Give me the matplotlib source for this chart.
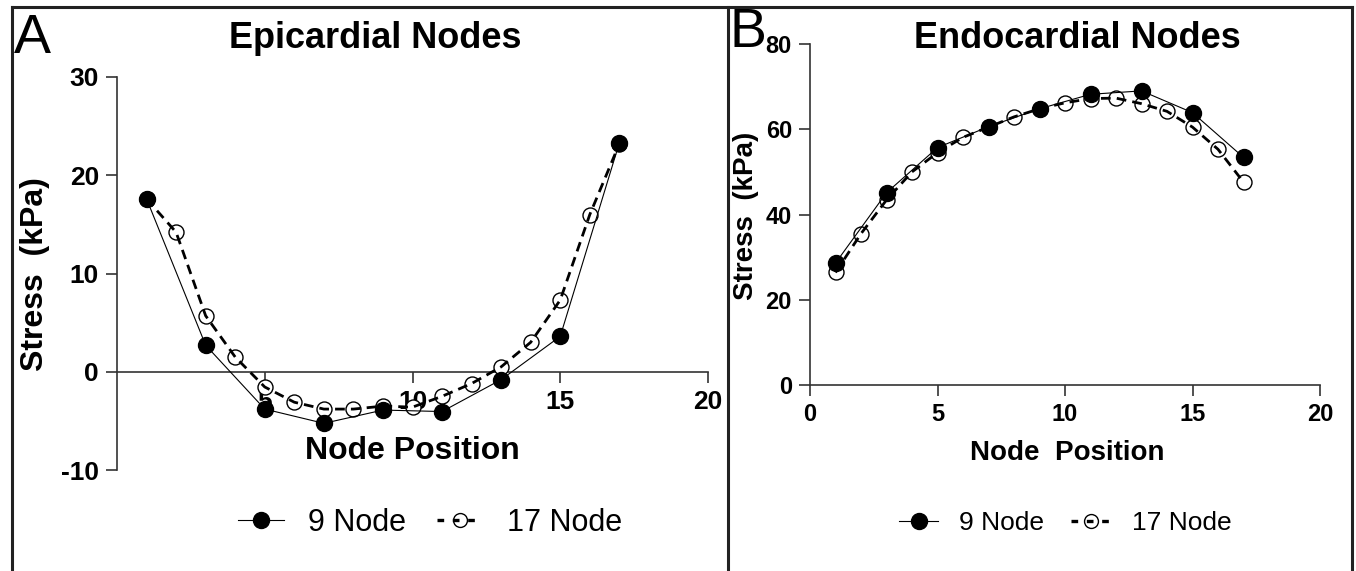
import matplotlib
matplotlib.use('Agg')
import matplotlib.pyplot as plt
from matplotlib.lines import Line2D
from matplotlib.legend_handler import HandlerTuple

# data
x9 = [1, 3, 5, 7, 9, 11, 13, 15, 17]
x17 = list(range(1, 18))

epi9 = [17.6, 2.7, -3.8, -5.25, -3.9, -4.05, -0.8, 3.6, 23.3]
epi17 = [17.6, 14.2, 5.7, 1.5, -1.55, -3.1, -3.8, -3.8, -3.5, -3.6,
         -2.5, -1.2, 0.5, 3.0, 7.3, 16.0, 23.2]

endo9 = [28.6, 45.1, 55.7, 60.6, 64.8, 68.2, 69.0, 63.9, 53.4]
endo17 = [26.4, 35.5, 43.4, 50.0, 54.5, 58.1, 60.5, 62.9, 64.8, 66.2,
          67.2, 67.3, 66.0, 64.2, 60.5, 55.3, 47.6]

labels = ['9 Node', '17 Node']

plt.rcParams['axes.unicode_minus'] = False
sans = ['Liberation Sans', 'DejaVu Sans']
plt.rcParams['font.family'] = sans

fig = plt.figure(figsize=(13.56, 5.71), dpi=100)

# panel frames
frame_kw = dict(color='#222222', lw=2.2, transform=fig.transFigure)
W, H = 1356, 571
fig.add_artist(Line2D([12 / W, 1352 / W], [1 - 7 / H, 1 - 7 / H], **frame_kw))
fig.add_artist(Line2D([12 / W, 12 / W], [0, 1 - 7 / H], **frame_kw))
fig.add_artist(Line2D([1352 / W, 1352 / W], [0, 1 - 7 / H], **frame_kw))
fig.add_artist(Line2D([728 / W, 728 / W], [0, 1 - 7 / H], **frame_kw))


def draw(ax, y9, y17, fs):
    ax.plot(x17, y17, 'o', ms=10.8, mfc='white', mec='black', mew=1.0, zorder=3)
    ax.plot(x17, y17, color='black', lw=2.0, ls=(0, (3.5, 2.2)), zorder=4)
    ax.plot(x9, y9, 'o-', color='black', lw=0.8, ms=11.5, zorder=5)
    for s in ['top', 'right']:
        ax.spines[s].set_visible(False)
    for s in ['left', 'bottom']:
        ax.spines[s].set_linewidth(1.2)
        ax.spines[s].set_color('#333333')
    ax.tick_params(length=8, width=1.2, color='#333333', pad=5, labelsize=fs)
    ax.set_axisbelow(True)
    plt.setp(ax.get_xticklabels() + ax.get_yticklabels(), fontweight='bold')


def add_legend(xc, yc, fs, hl):
    h9 = Line2D([], [], color='black', lw=0.8, marker='o', ms=11.5)
    h17a = Line2D([], [], ls='none', marker='o', ms=10, mfc='white', mec='black', mew=1.0)
    h17b = Line2D([], [], color='black', lw=2.4, ls=(0, (2.0, 2.6)))
    fig.legend([h9, (h17a, h17b)], labels, loc='center',
               bbox_to_anchor=(xc / W, 1 - yc / H), ncol=2, frameon=False,
               handler_map={tuple: HandlerTuple(ndivide=1)},
               prop={'size': fs}, handlelength=hl,
               handletextpad=0.8, columnspacing=1.0)


# panel A
axA = fig.add_axes([117 / W, 1 - 470 / H, 591 / W, 393 / H])
axA.set_xlim(0, 20)
axA.set_ylim(-10, 30)
axA.set_xticks([5, 10, 15, 20])
axA.set_yticks([-10, 0, 10, 20, 30])
axA.spines['bottom'].set_position(('data', 0))
draw(axA, epi9, epi17, 19)
fig.text(375 / W, 1 - 38 / H, 'Epicardial Nodes', ha='center', va='center',
         fontsize=26, fontweight='bold')
fig.text(412 / W, 1 - 451 / H, 'Node Position', ha='center', va='center',
         fontsize=23, fontweight='bold')
fig.text(35 / W, 1 - 274 / H, 'Stress  (kPa)', ha='center', va='center',
         rotation=90, fontsize=23, fontweight='bold')
fig.text(14 / W, 1 - 39 / H, 'A', ha='left', va='center', fontsize=40)
add_legend(430, 523, 22, 1.5)

# panel B
axB = fig.add_axes([810 / W, 1 - 385 / H, 510 / W, 341 / H])
axB.set_xlim(0, 20)
axB.set_ylim(0, 80)
axB.set_xticks([0, 5, 10, 15, 20])
axB.set_yticks([0, 20, 40, 60, 80])
draw(axB, endo9, endo17, 17)
fig.text(1077 / W, 1 - 38 / H, 'Endocardial Nodes', ha='center', va='center',
         fontsize=26, fontweight='bold')
fig.text(1067 / W, 1 - 453 / H, 'Node  Position', ha='center', va='center',
         fontsize=20, fontweight='bold')
fig.text(746 / W, 1 - 216 / H, 'Stress  (kPa)', ha='center', va='center',
         rotation=90, fontsize=20, fontweight='bold')
fig.text(729 / W, 1 - 33 / H, 'B', ha='left', va='center', fontsize=40)
add_legend(1065, 523, 19, 1.5)

fig.savefig('out.png', dpi=100)
